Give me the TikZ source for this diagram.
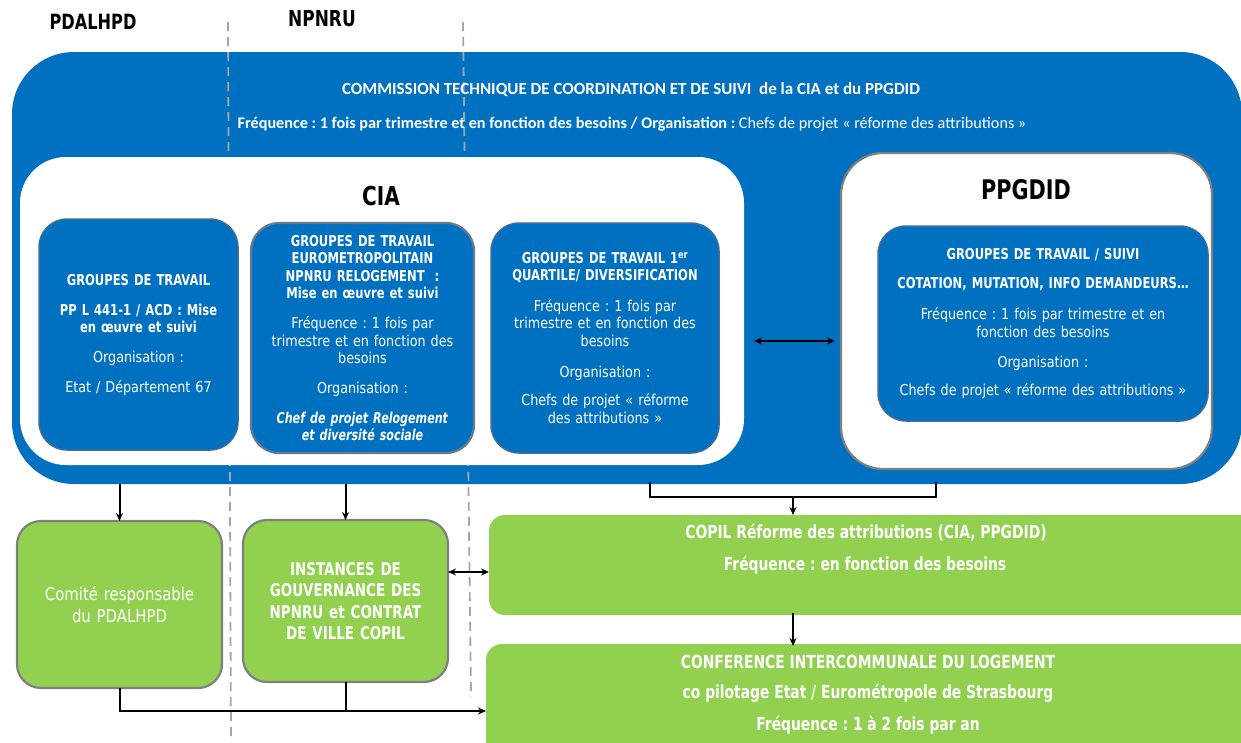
\documentclass[tikz,border=0pt]{standalone}
\usepackage{fontspec}
\setmainfont{Carlito}
\newfontfamily\tah{DejaVu Sans}[FakeStretch=0.85,BoldFeatures={FakeStretch=0.77},BoldItalicFeatures={FakeStretch=0.74}]
\usetikzlibrary{arrows.meta}
\definecolor{cblue}{HTML}{0070C0}
\definecolor{cgreen}{HTML}{92D050}
\definecolor{cbord}{HTML}{3F6C98}
\definecolor{cgray}{HTML}{7F7F7F}
\definecolor{cdash}{HTML}{A6A6A6}
\tikzset{
  boxnw/.style={anchor=north west,inner sep=0pt,outer sep=0pt},
  subbox/.style={boxnw,fill=cblue,draw=cbord,line width=1.5pt,rounded corners=28pt,
     text=white,align=center,font=\tah\fontsize{15}{17.5}\selectfont},
  whitebox/.style={boxnw,fill=white},
  greenbox/.style={boxnw,fill=cgreen,rounded corners=24pt,text=white,align=center,
     font=\tah\fontsize{17.5}{21.5}\selectfont},
  greenflat/.style={boxnw,fill=cgreen,rounded corners=16pt},
  dashline/.style={cdash,line width=1.8pt,dash pattern=on 9pt off 6pt},
  arr/.style={line width=2pt,-{Stealth[length=8pt,width=7pt]}},
  darr/.style={line width=2pt,{Stealth[length=8pt,width=7pt]}-{Stealth[length=8pt,width=7pt]}},
  lbl/.style={inner sep=0pt,text=white},
  gtxt/.style={lbl,font=\tah\bfseries\fontsize{18}{21}\selectfont},
}
\begin{document}
\frenchspacing
\begin{tikzpicture}[x=1pt,y=-1pt]
\useasboundingbox (0,0) rectangle (1241,742);
% outer commission box
\node[boxnw,fill=cblue,rounded corners=62pt,minimum width=1230pt,minimum height=432pt] (comm) at (12,52) {};
% dashed separators
\coordinate (d1t) at (228,22); \coordinate (d1b) at (231,742);
\coordinate (d2t) at (463,22); \coordinate (d2b) at (471,697);
\draw[dashline] (d1t) -- (d1b);
\draw[dashline] (d2t) -- (d2b);
% headings
\node[inner sep=0pt,font=\tah\bfseries\fontsize{21}{24}\selectfont] (hpd) at (93,22) {PDALHPD};
\node[inner sep=0pt,font=\tah\bfseries\fontsize{22}{24}\selectfont] (hnp) at (322,19) {NPNRU};
% commission texts
\node[lbl,font=\bfseries\fontsize{17}{20}\selectfont] (ct1) at (631,90) {COMMISSION TECHNIQUE DE COORDINATION ET DE SUIVI\ \ de la CIA et du PPGDID};
\node[lbl,font=\fontsize{16.2}{19}\selectfont] (ct2) at (632,124) {\textbf{Fréquence : 1 fois par trimestre et en fonction des besoins / Organisation :} Chefs de projet « réforme des attributions »};
% CIA box
\node[whitebox,rounded corners=46pt,minimum width=724pt,minimum height=308pt] (cia) at (20,157) {};
\node[inner sep=0pt,font=\tah\bfseries\fontsize{26}{30}\selectfont] (ciat) at (381,196) {CIA};
% PPGDID box
\node[whitebox,draw=cgray,line width=2.2pt,rounded corners=42pt,minimum width=371pt,minimum height=316pt] (ppg) at (841,153) {};
\node[inner sep=0pt,font=\tah\bfseries\fontsize{27}{30}\selectfont] (ppgt) at (1026,190) {PPGDID};
% sub boxes
\node[subbox,minimum width=199pt,minimum height=231pt,text width=190pt] (ga) at (39,219)
 {\textbf{GROUPES DE TRAVAIL}\\[12.5pt]
  \textbf{PP L 441-1 / ACD : Mise}\\\textbf{en œuvre et suivi}\\[12pt]
  Organisation :\\[12.5pt]
  Etat / Département 67};
\node[subbox,draw=cgray!80!cblue,line width=2.2pt,minimum width=223pt,minimum height=230pt,text width=215pt] (gb) at (251,223)
 {\textbf{GROUPES DE TRAVAIL}\\\textbf{EUROMETROPOLITAIN}\\\textbf{NPNRU RELOGEMENT\ \ :}\\\textbf{Mise en œuvre et suivi}\\[12.5pt]
  Fréquence : 1 fois par\\trimestre et en fonction des\\besoins\\[12.5pt]
  Organisation :\\[12pt]
  \textbf{\itshape Chef de projet Relogement}\\\textbf{\itshape et diversité sociale}};
\node[subbox,minimum width=228pt,minimum height=230pt,text width=220pt] (gc) at (491,223)
 {\textbf{GROUPES DE TRAVAIL 1\textsuperscript{er}}\\\textbf{QUARTILE/ DIVERSIFICATION}\\[13pt]
  Fréquence : 1 fois par\\trimestre et en fonction des\\besoins\\[13.5pt]
  Organisation :\\[11pt]
  Chefs de projet « réforme\\des attributions »};
\node[subbox,minimum width=330pt,minimum height=195pt,text width=320pt] (gd) at (878,226)
 {\textbf{GROUPES DE TRAVAIL / SUIVI}\\[11.5pt]
  \textbf{COTATION, MUTATION, INFO DEMANDEURS…}\\[13.5pt]
  Fréquence : 1 fois par trimestre et en\\fonction des besoins\\[12.5pt]
  Organisation :\\[10.5pt]
  Chefs de projet « réforme des attributions »};
% green boxes
\node[greenbox,draw=cgray,line width=2.2pt,minimum width=205pt,minimum height=167pt,text width=200pt] (comite) at (17,521)
 {Comité responsable\\du PDALHPD};
\node[greenbox,draw=cgray,line width=2.2pt,minimum width=205pt,minimum height=162pt,text width=200pt,font=\tah\bfseries\fontsize{17.5}{21.5}\selectfont] (inst) at (243,520)
 {INSTANCES DE\\GOUVERNANCE DES\\NPNRU et CONTRAT\\DE VILLE COPIL};
\node[greenflat,minimum width=770pt,minimum height=100pt] (copil) at (489,515) {};
\node[greenflat,minimum width=770pt,minimum height=115pt] (cil) at (486,644) {};
\node[gtxt] (copt1) at (866,533) {COPIL Réforme des attributions (CIA, PPGDID)};
\node[gtxt] (copt2) at (865,565) {Fréquence : en fonction des besoins};
\node[gtxt] (cilt1) at (868,662) {CONFERENCE INTERCOMMUNALE DU LOGEMENT};
\node[gtxt] (cilt2) at (868,693) {co pilotage Etat / Eurométropole de Strasbourg};
\node[gtxt] (cilt3) at (868,725) {Fréquence : 1 à 2 fois par an};
% connectors
\coordinate (ya) at (0,341);
\coordinate (yb) at (0,572);
\coordinate (yc) at (0,711);
\coordinate (bl) at (650,482);
\coordinate (br) at (936,482);
\coordinate (bm) at (793,497);
\draw[darr] ([xshift=10pt]cia.east |- ya) -- ([xshift=-6pt]ppg.west |- ya);
\draw[arr] (comite.north |- comm.south) -- (comite.north);
\draw[arr] (inst.north |- comm.south) -- (inst.north);
\draw[line width=2pt] (bl) -- (bl |- bm) -- (br |- bm) -- (br);
\draw[arr] (bm) -- (bm |- copil.north);
\draw[arr] ([yshift=2pt]bm |- copil.south) -- ([yshift=-2pt]bm |- cil.north);
\draw[darr] (inst.east |- yb) -- (copil.west |- yb);
\draw[arr] (comite.south) -- (comite.south |- yc) -- (cil.west |- yc);
\draw[line width=2pt] (inst.south) -- (inst.south |- yc);
\end{tikzpicture}
\end{document}
